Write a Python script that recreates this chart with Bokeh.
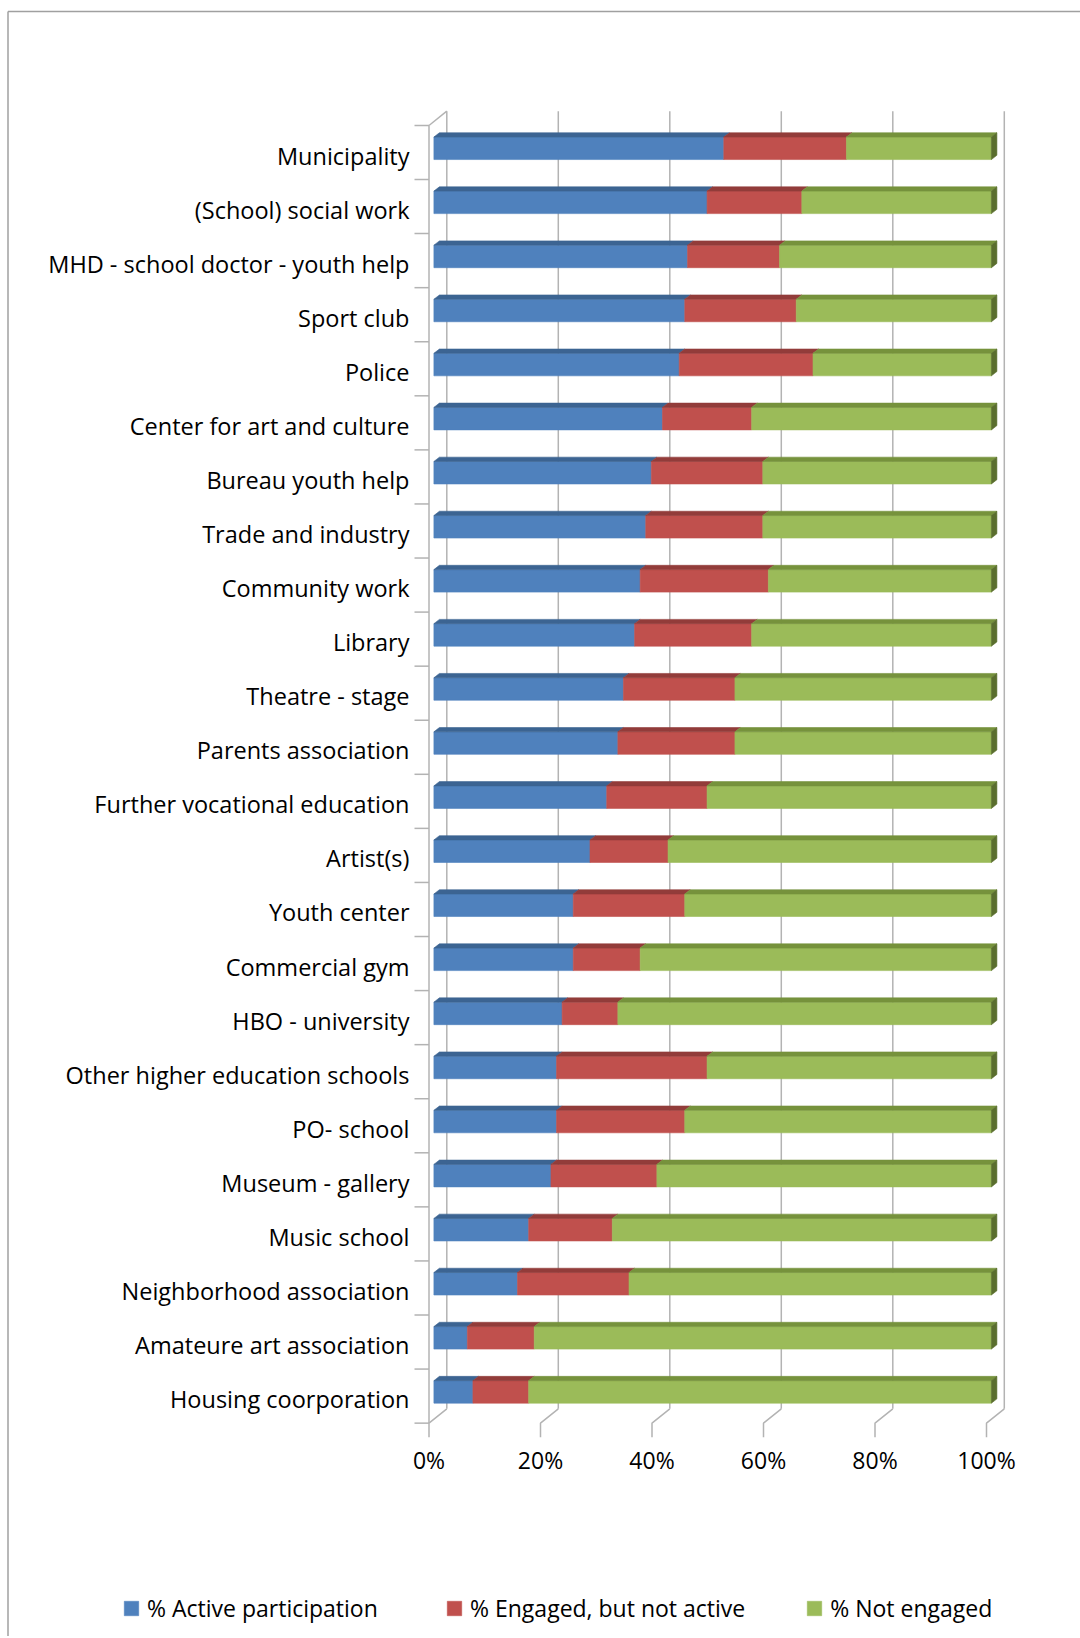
import numpy as np
from bokeh.plotting import figure
from bokeh.models import Range1d, ColumnDataSource, Legend, LegendItem
from bokeh.core.properties import value
from bokeh.embed import file_html
from bokeh.resources import INLINE

# ---------------- data ----------------
categories = [
    "Municipality", "(School) social work", "MHD - school doctor - youth help",
    "Sport club", "Police", "Center for art and culture", "Bureau youth help",
    "Trade and industry", "Community work", "Library", "Theatre - stage",
    "Parents association", "Further vocational education", "Artist(s)",
    "Youth center", "Commercial gym", "HBO - university",
    "Other higher education schools", "PO- school", "Museum - gallery",
    "Music school", "Neighborhood association", "Amateure art association",
    "Housing coorporation",
]
active = [52, 49, 45.5, 45, 44, 41, 39, 38, 37, 36, 34, 33, 31, 28, 25, 25,
          23, 22, 22, 21, 17, 15, 6, 7]
engaged = [22, 17, 16.5, 20, 24, 16, 20, 21, 23, 21, 20, 21, 18, 14, 20, 12,
           10, 27, 23, 19, 15, 20, 12, 10]
not_engaged = [26, 34, 38, 35, 32, 43, 41, 41, 40, 43, 46, 46, 51, 58, 55, 63,
               67, 51, 55, 60, 68, 65, 82, 83]
series_names = ["% Active participation", "% Engaged, but not active", "% Not engaged"]
x_ticks = [0, 20, 40, 60, 80, 100]
x_tick_labels = ["0%", "20%", "40%", "60%", "80%", "100%"]

# ---------------- style ----------------
front_colors = ["#4F81BD", "#C0504D", "#9BBB59"]
top_colors = ["#3C6492", "#923C3A", "#76923C"]
side_color = "#5A6E2E"
grid_color = "#B3B3B3"
border_color = "#A0A0A0"
FONT = "Open Sans"

W, H = 1080, 1636
X0_PX, X_SCALE = 428.5, 5.575     # canvas px of front 0%, px per percent
Y0_PX, Y_SCALE = 152.0, 54.07     # canvas px of first band centre, px per band


def px_x(px):
    return px / X_SCALE


def px_y(px):
    return px / Y_SCALE


p = figure(width=W, height=H,
           x_range=Range1d(-X0_PX / X_SCALE, (W - X0_PX) / X_SCALE),
           y_range=Range1d((H - Y0_PX) / Y_SCALE, -Y0_PX / Y_SCALE),
           x_axis_type=None, y_axis_type=None, toolbar_location=None,
           output_backend="svg", min_border=0, outline_line_color=None,
           background_fill_color="white", border_fill_color="white")
p.grid.visible = False

n = len(categories)
yi = np.arange(n, dtype=float)
top_edge, floor = -0.5, n - 0.5
BX, BY = px_x(17.8), px_y(-14.3)     # depth of the 3-D box

# chart-area border (left and top)
bx_left = px_x(7.5 - X0_PX)
by_top = px_y(11 - Y0_PX)
p.line(x=[bx_left, bx_left], y=[px_y(H - Y0_PX + 2), by_top],
       line_color=border_color, line_width=1.5)
p.line(x=[bx_left, px_x(W - X0_PX + 2)], y=[by_top, by_top],
       line_color=border_color, line_width=1.5)

# back-wall gridlines
p.multi_line(xs=[[v + BX, v + BX] for v in x_ticks],
             ys=[[top_edge + BY, floor + BY] for _ in x_ticks],
             line_color=grid_color, line_width=1.5)
# floor diagonals + ticks
p.multi_line(xs=[[v + BX, v, v] for v in x_ticks],
             ys=[[floor + BY, floor, floor + px_y(14)] for _ in x_ticks],
             line_color=grid_color, line_width=1.5)
# left wall
p.multi_line(xs=[[0, 0], [0, BX]],
             ys=[[top_edge, floor], [top_edge, top_edge + BY]],
             line_color=grid_color, line_width=1.5)
p.multi_line(xs=[[-px_x(14.5), 0] for _ in range(n + 1)],
             ys=[[k - 0.5, k - 0.5] for k in range(n + 1)],
             line_color=grid_color, line_width=1.5)

# ---------------- bars ----------------
stack = np.vstack([active, engaged, not_engaged]).astype(float)
pct = stack / stack.sum(axis=0) * 100.0
right = np.cumsum(pct, axis=0)
left = right - pct

FX = px_x(4.9)
TX, TY = px_x(5.5), px_y(-4.3)
yc = yi + px_y(-4.2)
half = px_y(11.25)
ytop = yc - half
ybot = yc + half

front_renderers = []
for k in range(3):
    l = left[k] + FX
    r = right[k] + FX
    src = ColumnDataSource(dict(left=l, right=r, top=ytop, bottom=ybot))
    rr = p.quad(left="left", right="right", top="top", bottom="bottom", source=src,
                fill_color=front_colors[k], line_color=front_colors[k], line_width=0.6)
    front_renderers.append(rr)
    p.patches(xs=[[a, b, b + TX, a + TX] for a, b in zip(l, r)],
              ys=[[t, t, t + TY, t + TY] for t in ytop],
              fill_color=top_colors[k], line_color=top_colors[k], line_width=0.6)

# right end faces of the stacks
r_end = right[2] + FX
p.patches(xs=[[b, b + TX, b + TX, b] for b in r_end],
          ys=[[t, t + TY, bt + TY, bt] for t, bt in zip(ytop, ybot)],
          fill_color=side_color, line_color=side_color, line_width=0.6)

# ---------------- labels ----------------
p.text(x=-px_x(19.5), y=yi + px_y(3.0), text=categories,
       text_align="right", text_baseline="alphabetic",
       text_font=value(FONT), text_font_size="23.5px", text_color="black")
p.text(x=x_ticks, y=[floor + px_y(37.0)] * len(x_ticks), text=x_tick_labels,
       text_align="center", text_baseline="alphabetic",
       text_font=value(FONT), text_font_size="23px", text_color="black")

legend = Legend(items=[LegendItem(label=series_names[k], renderers=[front_renderers[k]])
                       for k in range(3)],
                orientation="horizontal", location=(122, 12),
                glyph_width=18, glyph_height=18, label_standoff=7, spacing=60,
                label_width=238,
                padding=0, margin=0, border_line_color=None,
                background_fill_alpha=0, label_text_font=FONT,
                label_text_font_size="23px", label_text_color="black",
                label_text_baseline="middle")
p.add_layout(legend)

open("out.html", "w").write(file_html(p, INLINE))
